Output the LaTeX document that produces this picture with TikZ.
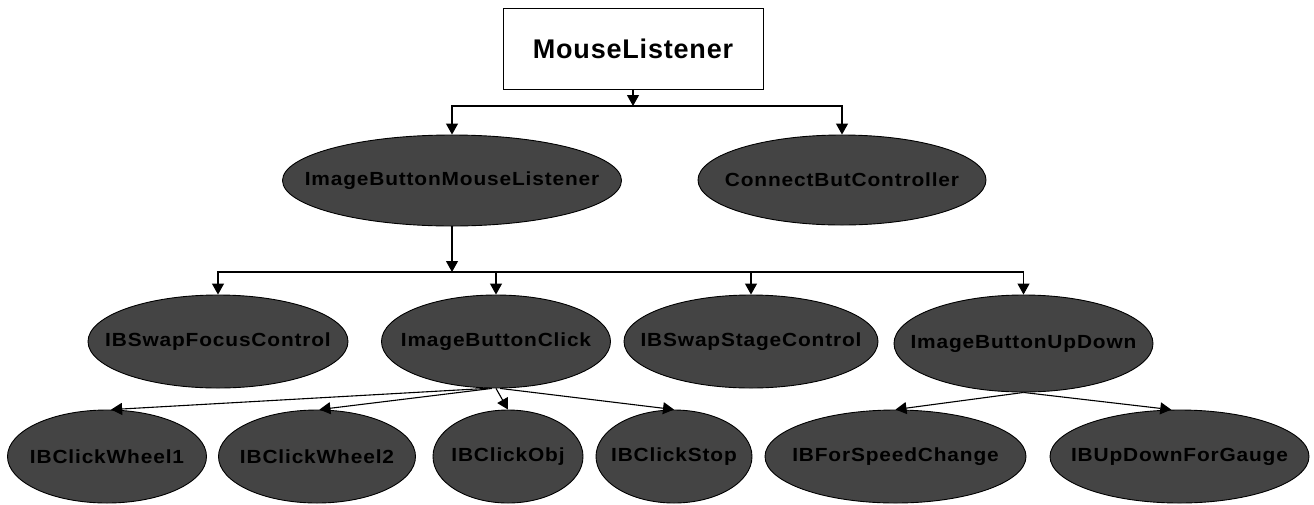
\documentclass[tikz,border=0pt]{standalone}
\usepackage{fontspec}
\setmainfont{Liberation Sans}
\usetikzlibrary{shapes.geometric,arrows.meta}
\definecolor{nodefill}{RGB}{68,68,68}
\tikzset{
  rootbox/.style={draw=black, line width=1pt, fill=white, inner sep=0pt,
    font=\fontsize{27}{30}\selectfont\bfseries\addfontfeatures{LetterSpace=3}},
  cls/.style={ellipse, draw=black, line width=0.9pt, fill=nodefill, inner sep=0pt,
    text=black, font=\fontsize{19}{21}\selectfont\bfseries\addfontfeatures{LetterSpace=4}},
  link/.style={line width=1.1pt, -{Triangle[length=11pt,width=12pt]}}
}
\newcommand{\lbl}[1]{\makebox[0pt][c]{\scalebox{1.1}[1]{#1}}}
\newcommand{\rootlbl}[1]{\makebox[0pt][c]{#1}}
\begin{document}
\begin{tikzpicture}[x=1pt,y=-1pt]
\useasboundingbox (0,0) rectangle (1314,504);

% root interface
\node[rootbox, minimum width=260pt, minimum height=81pt] (ml) at (633,48.5) {\rootlbl{MouseListener}};

% second level
\node[cls, minimum width=339pt, minimum height=91pt] (ibml) at (452,180.5) {\lbl{ImageButtonMouseListener}};
\node[cls, minimum width=288pt, minimum height=90pt] (cbc) at (842,180) {\lbl{ConnectButController}};

% third level
\node[cls, minimum width=260pt, minimum height=93pt] (sfc) at (218,341.5) {\lbl{IBSwapFocusControl}};
\node[cls, minimum width=229pt, minimum height=93pt] (ibc) at (496,341.5) {\lbl{ImageButtonClick}};
\node[cls, minimum width=254pt, minimum height=93pt] (ssc) at (751,341.5) {\lbl{IBSwapStageControl}};
\node[cls, minimum width=259pt, minimum height=97pt] (ibud) at (1023.5,343.5) {\lbl{ImageButtonUpDown}};

% leaves
\node[cls, minimum width=199pt, minimum height=93pt] (cw1) at (107,456.5) {\lbl{IBClickWheel1}};
\node[cls, minimum width=197pt, minimum height=93pt] (cw2) at (317,456.5) {\lbl{IBClickWheel2}};
\node[cls, minimum width=150pt, minimum height=93pt] (cobj) at (508,456.5) {\lbl{IBClickObj}};
\node[cls, minimum width=156pt, minimum height=93pt] (cstop) at (674,456.5) {\lbl{IBClickStop}};
\node[cls, minimum width=261pt, minimum height=93pt] (fsc) at (895.5,456.5) {\lbl{IBForSpeedChange}};
\node[cls, minimum width=259pt, minimum height=93pt] (udg) at (1179.5,456.5) {\lbl{IBUpDownForGauge}};

% junctions of the orthogonal trees
\coordinate (j1) at (633,106);
\coordinate (j2) at (452,272);

\draw[link] (ml.south) -- (j1);
\draw[link] (j1) -| (ibml.north);
\draw[link] (j1) -| (cbc.north);

\draw[link] (ibml.south) -- (j2);
\draw[link] (j2) -| (sfc.north);
\draw[link] (j2) -| (ibc.north);
\draw[link] (j2) -| (ssc.north);
\draw[link] (j2) -| (ibud.north);

% straight edges to the leaves
\draw[link] (ibc.260) -- (cw1.85);
\draw[link] (ibc.265) -- (cw2.87);
\draw[link] (ibc.south) -- (cobj.north);
\draw[link] (ibc.275) -- (cstop.north);
\draw[link] (ibud.south) -- (fsc.north);
\draw[link] (ibud.south) -- (udg.100);
\end{tikzpicture}
\end{document}
